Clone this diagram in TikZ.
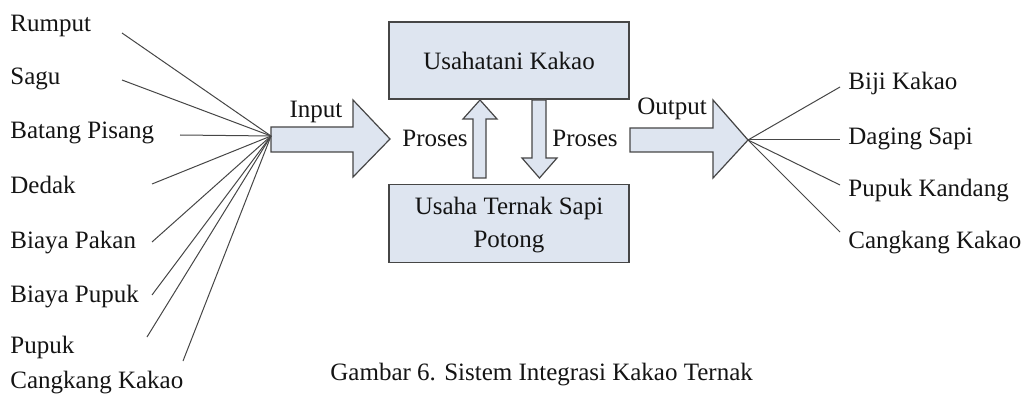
\documentclass[tikz,border=0pt]{standalone}
\usepackage{fontspec}
\setmainfont{Liberation Serif}
\definecolor{boxfill}{RGB}{222,229,240}
\definecolor{edge}{RGB}{70,70,70}
\definecolor{ink}{RGB}{20,20,20}
\tikzset{
  lbl/.style={anchor=base west, inner sep=0pt, font=\fontsize{12.5}{15}\selectfont, text=ink},
  clbl/.style={anchor=base, inner sep=0pt, font=\fontsize{12.5}{15}\selectfont, text=ink},
  blockbox/.style={draw=edge, fill=boxfill, line width=0.6pt, minimum width=120pt, inner sep=0pt,
     font=\fontsize{12.5}{15}\selectfont, text=ink, align=center},
  blockarrow/.style={draw=edge, fill=boxfill, line width=0.6pt, line join=miter},
  fan/.style={draw=edge, line width=0.5pt}
}
\begin{document}
\begin{tikzpicture}[x=0.5pt,y=-0.5pt]
\useasboundingbox (0,0) rectangle (1026,395);
% boxes
\node[blockbox, minimum height=38.5pt] (top) at (509,60.5) {};
\node[clbl] (toptxt) at (509,70) {Usahatani Kakao};
\node[blockbox, minimum height=39pt] (bot) at (509,223.5) {};
\node[clbl] (bottxt1) at (509,214) {Usaha Ternak Sapi};
\node[clbl] (bottxt2) at (509,247) {Potong};
% input arrow
\draw[blockarrow] (271,127) -- (353,127) -- (353,100) -- (390,139) -- (353,177) -- (353,152) -- (271,152) -- cycle;
\node[clbl] (inlbl) at (316,118) {Input};
% output arrow
\draw[blockarrow] (630,128) -- (713,128) -- (713,100) -- (748,140) -- (713,178) -- (713,152) -- (630,152) -- cycle;
\node[clbl] (outlbl) at (672,115) {Output};
% process arrows
\draw[blockarrow] (473,178) -- (473,119) -- (463,119) -- (480,100) -- (497,119) -- (486,119) -- (486,178) -- cycle;
\draw[blockarrow] (532,100) -- (532,158) -- (522,158) -- (539.5,178) -- (557,158) -- (546,158) -- (546,100) -- cycle;
\node[clbl] (pr1) at (435,147) {Proses};
\node[clbl] (pr2) at (585,147) {Proses};
% left labels
\node[lbl] (l1) at (10,32) {Rumput};
\node[lbl] (l2) at (10,85) {Sagu};
\node[lbl] (l3) at (10,139) {Batang Pisang};
\node[lbl] (l4) at (10,193) {Dedak};
\node[lbl] (l5) at (10,248) {Biaya Pakan};
\node[lbl] (l6) at (10,302) {Biaya Pupuk};
\node[lbl] (l7) at (10,353) {Pupuk};
\node[lbl] (l8) at (10,388) {Cangkang Kakao};
% left fan
\coordinate (inhub) at (271,136);
\coordinate (s1) at (122,33);
\coordinate (s2) at (122,80);
\coordinate (s3) at (180,135);
\coordinate (s4) at (152,184);
\coordinate (s5) at (152,242);
\coordinate (s6) at (152,295);
\coordinate (s7) at (147,337);
\coordinate (s8) at (183,361);
\foreach \i in {1,...,8} \draw[fan] (s\i) -- (inhub);
% right labels
\node[lbl] (r1) at (848,90) {Biji Kakao};
\node[lbl] (r2) at (848,145) {Daging Sapi};
\node[lbl] (r3) at (848,197) {Pupuk Kandang};
\node[lbl] (r4) at (848,248) {Cangkang Kakao};
\coordinate (outhub) at (748,140);
\coordinate (e1) at (840,87);
\coordinate (e2) at (840,140);
\coordinate (e3) at (840,185);
\coordinate (e4) at (840,232);
\foreach \i in {1,...,4} \draw[fan] (outhub) -- (e\i);
% caption
\node[lbl] (cap) at (330,380) {Gambar 6. Sistem Integrasi Kakao Ternak};
\end{tikzpicture}
\end{document}
